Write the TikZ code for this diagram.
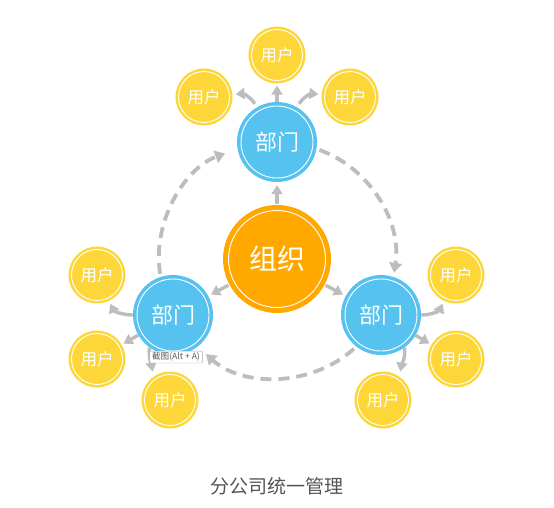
\documentclass[tikz,border=0pt]{standalone}
\usepackage{fontspec}
\newfontfamily\cjk{Noto Sans CJK SC}
\usetikzlibrary{arrows.meta}
\definecolor{Corg}{HTML}{FFA800}
\definecolor{Cdept}{HTML}{56C2F0}
\definecolor{Cuser}{HTML}{FDD73A}
\definecolor{Clink}{HTML}{BDBDBD}
\definecolor{Ctext}{HTML}{555555}
\tikzset{
  ringed/.style={path picture={\draw[white, line width=0.9pt]
    (path picture bounding box.center) circle[radius=#1];}},
  orgnode/.style={circle, fill=Corg, minimum size=108pt, inner sep=0pt,
    text=white, font=\cjk\fontsize{28pt}{30pt}\selectfont, ringed=48.5pt},
  deptnode/.style={circle, fill=Cdept, minimum size=80pt, inner sep=0pt,
    text=white, font=\cjk\fontsize{22pt}{24pt}\selectfont, ringed=36pt},
  usernode/.style={circle, fill=Cuser, minimum size=57pt, inner sep=0pt,
    text=white, font=\cjk\fontsize{16.5pt}{18pt}\selectfont, ringed=25.5pt},
  ringarr/.style={draw=Clink, line width=3.8pt, dash pattern=on 11pt off 7pt,
    shorten <=3pt, -{Triangle[length=10pt, width=12.5pt]}},
  feedarr/.style={draw=Clink, line width=3.4pt,
    -{Triangle[length=9pt, width=11pt]}},
  tipbox/.style={draw=black!35, fill=white, rounded corners=1pt,
    inner xsep=2.5pt, inner ysep=1.5pt, text=black!65,
    font=\cjk\fontsize{8.6pt}{9.5pt}\selectfont},
  caption/.style={text=Ctext, font=\cjk\fontsize{19pt}{21pt}\selectfont},
}

\begin{document}
\begin{tikzpicture}[x=1pt, y=1pt]

\fill[white] (0,0) rectangle (554,-507);
\path[use as bounding box] (0,0) rectangle (554,-507);

%% centre and departments
\node[orgnode] (org) at (277,-259) {组织};
\node[deptnode] (deptT) at (277,-142) {部门};
\node[deptnode] (deptL) at (173,-315) {部门};
\node[deptnode] (deptR) at (381,-315) {部门};

%% users
\node[usernode] (userT)  at (277,-55)  {用户};
\node[usernode] (userTL) at (204,-97)  {用户};
\node[usernode] (userTR) at (350,-97)  {用户};
\node[usernode] (userUL) at (97,-275)  {用户};
\node[usernode] (userML) at (97,-359)  {用户};
\node[usernode] (userB)  at (170,-400) {用户};
\node[usernode] (userUR) at (456,-275) {用户};
\node[usernode] (userMR) at (456,-359) {用户};
\node[usernode] (userBR) at (383,-400) {用户};

%% dashed ring between departments
\draw[ringarr, shorten >=13pt] (deptL.108) to[out=99, in=200, looseness=0.96] (deptT.190);
\draw[ringarr, shorten >=4pt] (deptT.-10) to[out=-19.5, in=81, looseness=0.96] (deptR.72);
\draw[ringarr, shorten >=11pt] (deptR.232) to[out=222, in=318, looseness=0.98] (deptL.-52);

%% organisation to departments
\draw[feedarr, shorten <=1pt, shorten >=3pt] (org) -- (deptT);
\draw[feedarr, shorten <=1pt, shorten >=3pt] (org) -- (deptL);
\draw[feedarr, shorten <=1pt, shorten >=3pt] (org) -- (deptR);

%% departments to users
\draw[feedarr, shorten >=2pt] (deptT) -- (userT);
\draw[feedarr, shorten <=4pt, shorten >=3pt] (deptT) to[out=120, in=5] (userTL);
\draw[feedarr, shorten <=4pt, shorten >=3pt] (deptT) to[out=60, in=175] (userTR);

\draw[feedarr, shorten >=3pt] (deptL) to[out=180, in=-65] (userUL);
\draw[feedarr, shorten >=2pt] (deptL) -- (userML);
\draw[feedarr, shorten >=5pt] (deptL.234) to[out=265, in=100] (userB.125);

\draw[feedarr, shorten >=3pt] (deptR) to[out=0, in=245] (userUR);
\draw[feedarr, shorten >=2pt] (deptR) -- (userMR);
\draw[feedarr, shorten >=5pt] (deptR.-54) to[out=-85, in=80] (userBR.55);

%% screenshot hint and caption
\node[tipbox] (hint) at (176,-357) {截图(Alt + A)};
\node[caption] (title) at (277,-486) {分公司统一管理};

\end{tikzpicture}
\end{document}
